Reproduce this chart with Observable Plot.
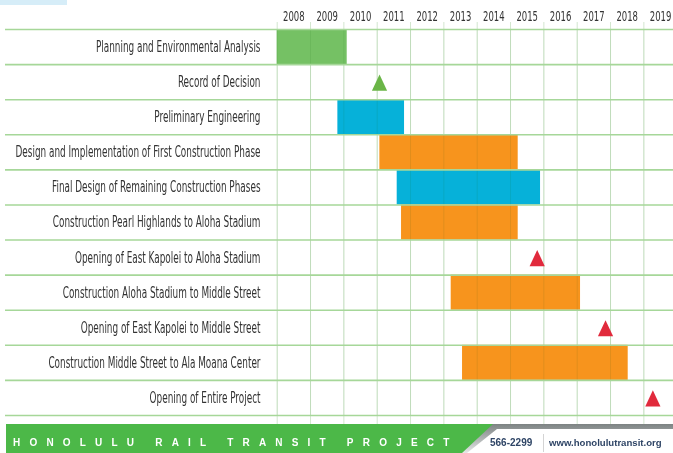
<!DOCTYPE html>
<html>
<head>
<meta charset="utf-8">
<script src="https://cdn.jsdelivr.net/npm/d3@7"></script>
<script src="https://cdn.jsdelivr.net/npm/@observablehq/plot@0.6"></script>
<style>
  html, body { margin: 0; padding: 0; background: #fff; }
  #wrap { position: relative; width: 673px; height: 453px; overflow: hidden; background: #fff; }
  #corner { position: absolute; left: 0; top: 0; width: 67px; height: 5px; background: #d6edf8; }
  #chart { position: absolute; left: 0; top: 0; }
  #footer { position: absolute; left: 0; top: 424px; width: 673px; height: 29px; }
  #green { position: absolute; left: 6px; top: 0; width: 490px; height: 29px; background: #4cb848;
           clip-path: polygon(0 0, 487px 0, 456px 29px, 0 29px); }
  #shadow { position: absolute; left: 6px; top: 0; width: 667px; height: 29px;
           background: linear-gradient(#7d8383, #b9bdbd 60%, #e6e8e8);
           clip-path: polygon(484px 0, 667px 0, 667px 5px, 491px 5px, 461px 29px, 455px 29px); }
  #brand { position: absolute; left: 13px; top: 0; height: 29px; color: #fff;
           font: bold 10px "Liberation Sans", Arial, sans-serif; line-height: 37px; letter-spacing: 9.2px; white-space: pre; }
  #phone { position: absolute; left: 490px; top: 0; height: 29px; color: #2f4566;
           font: bold 10px "Liberation Sans", Arial, sans-serif; line-height: 38px; }
  #divider { position: absolute; left: 543px; top: 10px; width: 1px; height: 18px; background: #d4d4d4; }
  #url { position: absolute; left: 549px; top: 0; height: 29px; color: #2f4566;
         font: bold 9.6px "Liberation Sans", Arial, sans-serif; line-height: 38px; }
</style>
</head>
<body>
<div id="wrap">
  <div id="chart"></div>
  <div id="corner"></div>
  <div id="footer">
    <div id="shadow"></div>
    <div id="green"></div>
    <div id="brand">HONOLULU RAIL TRANSIT PROJECT</div>
    <div id="phone">566-2299</div>
    <div id="divider"></div>
    <div id="url">www.honolulutransit.org</div>
  </div>
</div>
<script>
// ---- data ----
const tasks = [
  "Planning and Environmental Analysis",
  "Record of Decision",
  "Preliminary Engineering",
  "Design and Implementation of First Construction Phase",
  "Final Design of Remaining Construction Phases",
  "Construction Pearl Highlands to Aloha Stadium",
  "Opening of East Kapolei to Aloha Stadium",
  "Construction Aloha Stadium to Middle Street",
  "Opening of East Kapolei to Middle Street",
  "Construction Middle Street to Ala Moana Center",
  "Opening of Entire Project"
];
const years = [2008, 2009, 2010, 2011, 2012, 2013, 2014, 2015, 2016, 2017, 2018, 2019];

const barTasks  = [0, 2, 3, 4, 5, 7, 9];
const barStarts = [2008.0, 2009.82, 2011.08, 2011.6, 2011.73, 2013.22, 2013.56];
const barEnds   = [2010.1, 2011.82, 2015.23, 2015.9, 2015.23, 2017.1, 2018.53];
const barKinds  = ["Planning", "Engineering", "Construction", "Engineering", "Construction", "Construction", "Construction"];

const msTasks = [1, 6, 8, 10];
const msDates = [2011.07, 2015.8, 2017.85, 2019.27];
const msKinds = ["Decision", "Opening", "Opening", "Opening"];

const kindNames  = ["Planning", "Engineering", "Construction", "Decision", "Opening"];
const kindColors = ["#75c164", "#06b1d9", "#f7941d", "#6ab547", "#e12a3c"];

// ---- tables built from arrays ----
const bars = barTasks.map((t, i) => ({row: t, start: barStarts[i], end: barEnds[i], kind: barKinds[i]}));
const milestones = msTasks.map((t, i) => ({row: t, date: msDates[i], kind: msKinds[i]}));
const rowEdges = d3.range(tasks.length + 1);
const yearEdges = years.concat([years[years.length - 1] + 1]);

// custom upward triangle (slightly taller than wide)
const triangle = {
  draw(context, size) {
    const r = Math.sqrt(size / Math.PI);
    context.moveTo(0, -r);
    context.lineTo(r, r * 1.13);
    context.lineTo(-r, r * 1.13);
    context.closePath();
  }
};

const chart = Plot.plot({
  width: 673,
  height: 424,
  marginLeft: 276.7,
  marginRight: -3.7,
  marginTop: 29,
  marginBottom: 9,
  style: {fontFamily: "'DejaVu Sans Condensed', 'Liberation Sans Narrow', 'Liberation Sans', sans-serif", color: "#333333", background: "transparent", overflow: "visible"},
  x: {domain: [years[0], years[years.length - 1] + 1]},
  y: {domain: [tasks.length, 0]},
  color: {domain: kindNames, range: kindColors},
  marks: [
    Plot.ruleX(yearEdges, {stroke: "#d3e7cf", strokeWidth: 1, insetTop: -7, insetBottom: -9}),
    Plot.rect(bars, {x1: "start", x2: "end", y1: "row", y2: d => d.row + 1, fill: "kind"}),
    Plot.ruleX(yearEdges, {stroke: "#d3e7cf", strokeWidth: 1, mixBlendMode: "multiply", strokeOpacity: 0.5}),
    Plot.ruleY(rowEdges, {stroke: "#a6d799", strokeWidth: 1.6, insetLeft: -271.7}),
    Plot.dot(milestones, {x: "date", y: d => d.row + 0.5, symbol: triangle, r: 7.6, fill: "kind", stroke: null}),
    Plot.axisY({
      ticks: tasks.map((d, i) => i + 0.5),
      tickFormat: d => tasks[Math.floor(d)],
      tickSize: 0, tickPadding: 16.7, fontSize: 15.5, label: null
    }),
    Plot.axisX({
      anchor: "top",
      ticks: years.map(y => y + 0.5),
      tickFormat: d => String(Math.floor(d)),
      tickSize: 0, tickPadding: 9, fontSize: 14.5, label: null
    })
  ]
});
document.getElementById("chart").appendChild(chart);

// horizontally condense the labels, like the condensed face of the original
function condense(nodes, k) {
  nodes.forEach(n => {
    const w = n.getComputedTextLength();
    n.setAttribute("textLength", (w * k).toFixed(2));
    n.setAttribute("lengthAdjust", "spacingAndGlyphs");
  });
}
const allTexts = Array.from(chart.querySelectorAll("text"));
const isYear = n => /^\d{4}$/.test(n.textContent.trim());
const yearTexts = allTexts.filter(isYear);
const rowTexts = allTexts.filter(n => !isYear(n));
const longestRow = d3.max(rowTexts, n => n.getComputedTextLength());
const widestYear = d3.max(yearTexts, n => n.getComputedTextLength());
condense(rowTexts, 245 / longestRow);
condense(yearTexts, 21.6 / widestYear);
</script>
</body>
</html>
